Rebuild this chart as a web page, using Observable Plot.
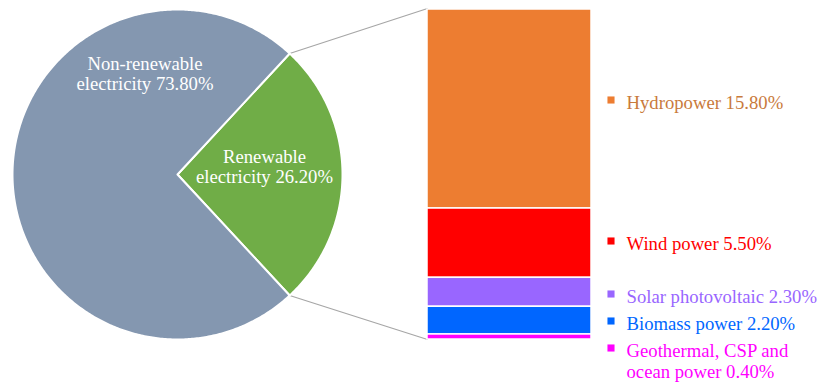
<!DOCTYPE html>
<html><head><meta charset="utf-8">
<script src="https://cdn.jsdelivr.net/npm/d3@7"></script>
<script src="https://cdn.jsdelivr.net/npm/@observablehq/plot@0.6"></script>
<style>body{margin:0;background:#fff} #chart{width:818px;height:384px}</style>
</head><body><div id="chart"></div>
<script>
// ---- data ----
const pieCategories = ["Renewable electricity", "Non-renewable electricity"];
const pieValues = [26.2, 73.8];
const pieColors = ["#70AD47", "#8497B0"];
const pieLabels = ["Renewable\nelectricity 26.20%", "Non-renewable\nelectricity 73.80%"];

const barCategories = ["Hydropower", "Wind power", "Solar photovoltaic", "Biomass power", "Geothermal, CSP and ocean power"];
const barValues = [15.8, 5.5, 2.3, 2.2, 0.4];
const barColors = ["#ED7D31", "#FF0000", "#9966FF", "#0066FF", "#FF00FF"];
const barTextColors = ["#C97A3C", "#FF0000", "#9966FF", "#0066FF", "#FF00FF"];
const barLabels = ["Hydropower 15.80%", "Wind power 5.50%", "Solar photovoltaic 2.30%", "Biomass power 2.20%", "Geothermal, CSP and\nocean power 0.40%"];

// ---- layout ----
const W = 818, H = 384;
const FS = 18.7;
const FONT = "'Liberation Serif', 'Times New Roman', serif";
const pieGeom = {cx: 177, cy: 174, r: 165};
const pieLabelPos = [[264, 161], [144.5, 68]]; // first-line baseline
const barGeom = {x1: 427, x2: 591, top: 9, bottom: 339};
const legend = {squareX: 610.5, textX: 626, baselines: [107, 248, 301, 328, 355], squareDy: -7.5};

// ---- build ----
const pieTotal = d3.sum(pieValues);
const start = -pieValues[0] / pieTotal * Math.PI;
let cum = 0;
const slices = pieValues.map((v, i) => {
  const t0 = start + cum / pieTotal * 2 * Math.PI;
  cum += v;
  const t1 = start + cum / pieTotal * 2 * Math.PI;
  const n = Math.max(2, Math.ceil((t1 - t0) / 0.01));
  const pts = [{x: pieGeom.cx, y: pieGeom.cy}];
  for (let k = 0; k <= n; k++) {
    const t = t0 + (t1 - t0) * k / n;
    pts.push({x: pieGeom.cx + pieGeom.r * Math.cos(t), y: pieGeom.cy - pieGeom.r * Math.sin(t)});
  }
  pts.push({x: pieGeom.cx, y: pieGeom.cy});
  return {category: pieCategories[i], color: pieColors[i], points: pts, t0, t1};
});

const pieText = pieLabels.map((l, i) => ({text: l, x: pieLabelPos[i][0], y: pieLabelPos[i][1] - 0.71 * FS}));

const barTotal = d3.sum(barValues);
const vy = d3.scaleLinear([0, barTotal], [barGeom.top, barGeom.bottom]);
let c2 = 0;
const bars = barValues.map((v, i) => {
  const d = {category: barCategories[i], y1: vy(c2), y2: vy(c2 + v), color: barColors[i], textColor: barTextColors[i],
    label: barLabels[i], textY: legend.baselines[i] - 0.71 * FS, sqY: legend.baselines[i] + legend.squareDy};
  c2 += v;
  return d;
});

// connectors from renewable slice edges to bar corners
const g = slices[0];
const connectors = [
  [{x: pieGeom.cx + pieGeom.r * Math.cos(g.t1), y: pieGeom.cy - pieGeom.r * Math.sin(g.t1), id: "top"}, {x: barGeom.x1, y: barGeom.top - 1, id: "top"}],
  [{x: pieGeom.cx + pieGeom.r * Math.cos(g.t0), y: pieGeom.cy - pieGeom.r * Math.sin(g.t0), id: "bot"}, {x: barGeom.x1, y: barGeom.bottom, id: "bot"}]
].flat();

const marks = [
  Plot.line(connectors, {x: "x", y: "y", z: "id", stroke: "#A6A6A6", strokeWidth: 1.2}),
  ...slices.map(s => Plot.line(s.points, {x: "x", y: "y", fill: s.color, stroke: "white", strokeWidth: 2, strokeLinejoin: "round"})),
  Plot.text(pieText, {x: "x", y: "y", text: "text", fill: "white", textAnchor: "middle", lineAnchor: "top", lineHeight: 1.1, fontSize: FS, fontFamily: FONT}),
  Plot.rect(bars, {x1: () => barGeom.x1, x2: () => barGeom.x2, y1: "y1", y2: "y2", fill: "color", stroke: "white", strokeWidth: 1.5}),
  Plot.dot(bars, {x: () => legend.squareX, y: "sqY", symbol: "square", r: 4, fill: "color"}),
  Plot.text(bars, {x: () => legend.textX, y: "textY", text: "label", fill: "textColor", textAnchor: "start", lineAnchor: "top", lineHeight: 1.13, fontSize: FS, fontFamily: FONT})
];

const chart = Plot.plot({
  width: W, height: H, margin: 0,
  x: {domain: [0, W], range: [0, W], axis: null},
  y: {domain: [0, H], range: [0, H], axis: null},
  color: {type: "identity"},
  style: {background: "white"},
  marks
});
document.getElementById("chart").appendChild(chart);
</script>
</body></html>
